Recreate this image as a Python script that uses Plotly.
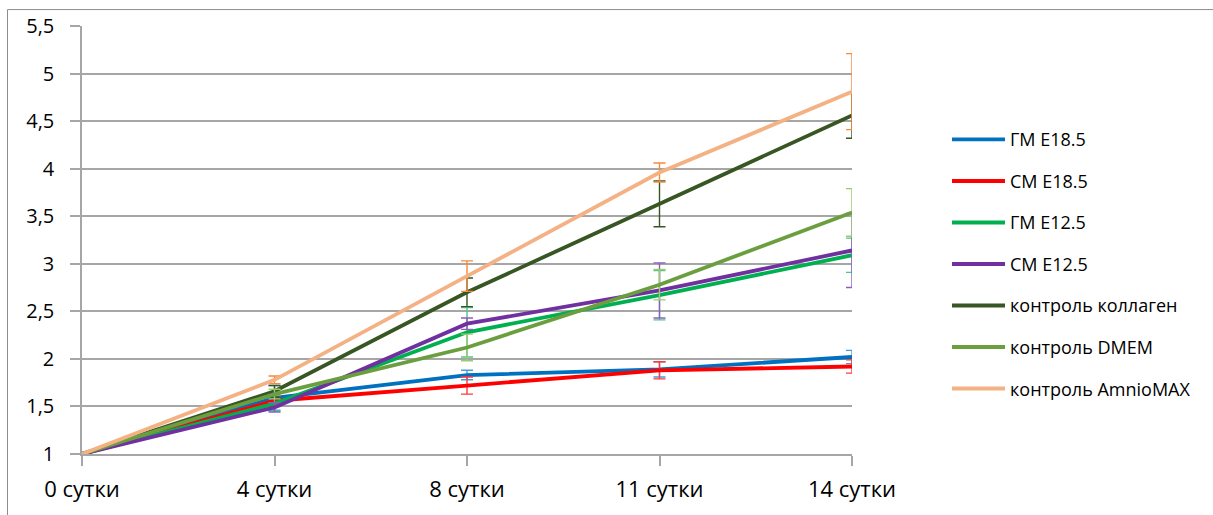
import plotly.graph_objects as go

# Timepoints (days in culture) and tick labels
days = [0, 1, 2, 3, 4]
day_labels = ["0 сутки", "4 сутки", "8 сутки", "11 сутки", "14 сутки"]

# Relative cell growth per group, with standard deviations
gm_e185 = [1.00, 1.59, 1.83, 1.89, 2.02]
gm_e185_err = [0, 0.13, 0.05, 0.08, 0.07]
sm_e185 = [1.00, 1.56, 1.72, 1.88, 1.92]
sm_e185_err = [0, 0.06, 0.09, 0.09, 0.07]
gm_e125 = [1.00, 1.53, 2.28, 2.67, 3.09]
gm_e125_err = [0, 0.08, 0.26, 0.26, 0.18]
sm_e125 = [1.00, 1.49, 2.37, 2.72, 3.14]
sm_e125_err = [0, 0.05, 0.06, 0.29, 0.39]
ctrl_collagen = [1.00, 1.66, 2.70, 3.63, 4.56]
ctrl_collagen_err = [0, 0.06, 0.15, 0.24, 0.24]
ctrl_dmem = [1.00, 1.63, 2.12, 2.78, 3.54]
ctrl_dmem_err = [0, 0.05, 0.14, 0.16, 0.25]
ctrl_amnio = [1.00, 1.78, 2.87, 3.96, 4.81]
ctrl_amnio_err = [0, 0.04, 0.16, 0.10, 0.40]

y_ticks = [1, 1.5, 2, 2.5, 3, 3.5, 4, 4.5, 5, 5.5]
y_tick_text = ["1", "1,5", "2", "2,5", "3", "3,5", "4", "4,5", "5", "5,5"]

series = [
    ("ГМ E18.5", gm_e185, gm_e185_err, "#0070C0", "#4A9BD9"),
    ("СМ E18.5", sm_e185, sm_e185_err, "#FF0000", "#FF3B3B"),
    ("ГМ E12.5", gm_e125, gm_e125_err, "#00B050", "#4CC886"),
    ("СМ E12.5", sm_e125, sm_e125_err, "#7030A0", "#8E5CC0"),
    ("контроль коллаген", ctrl_collagen, ctrl_collagen_err, "#375623", "#375623"),
    ("контроль DMEM", ctrl_dmem, ctrl_dmem_err, "#6A9E3F", "#9CCB70"),
    ("контроль AmnioMAX", ctrl_amnio, ctrl_amnio_err, "#F4B183", "#F58A3A"),
]

FONT = "Open Sans"

fig = go.Figure()
for name, vals, err, color, err_color in series:
    fig.add_trace(go.Scatter(
        x=days, y=vals, name=name, mode="lines",
        line=dict(color=color, width=3.8),
        error_y=dict(type="data", array=err, visible=True,
                     color=err_color, thickness=1.4, width=6),
        showlegend=False,
    ))

# Legend drawn at the right: short colour bar plus label for each series
L, T, PW, PH = 82, 26, 770, 430
leg_y0, leg_dy = 140, 41.7
for i, (name, vals, err, color, err_color) in enumerate(series):
    py = leg_y0 + i * leg_dy
    yp = 1 - (py - T) / PH
    fig.add_shape(type="line", xref="paper", yref="paper",
                  x0=(952 - L) / PW, x1=(1005 - L) / PW, y0=yp, y1=yp,
                  line=dict(color=color, width=3.8))
    fig.add_annotation(xref="paper", yref="paper", x=(1008 - L) / PW, y=yp,
                       text=name, showarrow=False, xanchor="left",
                       yanchor="middle", font=dict(family=FONT, size=18,
                                                   color="#000000"))

# Outer chart frame
fig.add_shape(type="rect", xref="paper", yref="paper",
              x0=(7.5 - L) / PW, x1=(1230 - L) / PW,
              y0=1 - (530 - T) / PH, y1=1 + (T - 9.5) / PH,
              line=dict(color="#8C8C8C", width=1), layer="below")

fig.update_layout(
    width=1213, height=515,
    margin=dict(l=L, r=1213 - L - PW, t=T, b=515 - T - PH),
    paper_bgcolor="white", plot_bgcolor="white",
    font=dict(family=FONT, color="#000000"),
    showlegend=False,
)
fig.update_xaxes(
    range=[0, 4], tickvals=days, ticktext=day_labels,
    showgrid=False, zeroline=False,
    showline=True, linecolor="#A6A6A6", linewidth=1.5,
    ticks="outside", ticklen=10, tickcolor="#A6A6A6", tickwidth=1.5,
    ticklabelstandoff=5,
    tickfont=dict(family=FONT, size=22, color="#000000"),
)
fig.update_yaxes(
    range=[1, 5.5], tickvals=y_ticks, ticktext=y_tick_text,
    showgrid=True, gridcolor="#A6A6A6", gridwidth=1.5, zeroline=False,
    showline=True, linecolor="#A6A6A6", linewidth=1.5,
    ticks="outside", ticklen=10, tickcolor="#A6A6A6", tickwidth=1.5,
    ticklabelstandoff=12,
    tickfont=dict(family=FONT, size=20, color="#000000"),
)

fig.write_html("out.html")
